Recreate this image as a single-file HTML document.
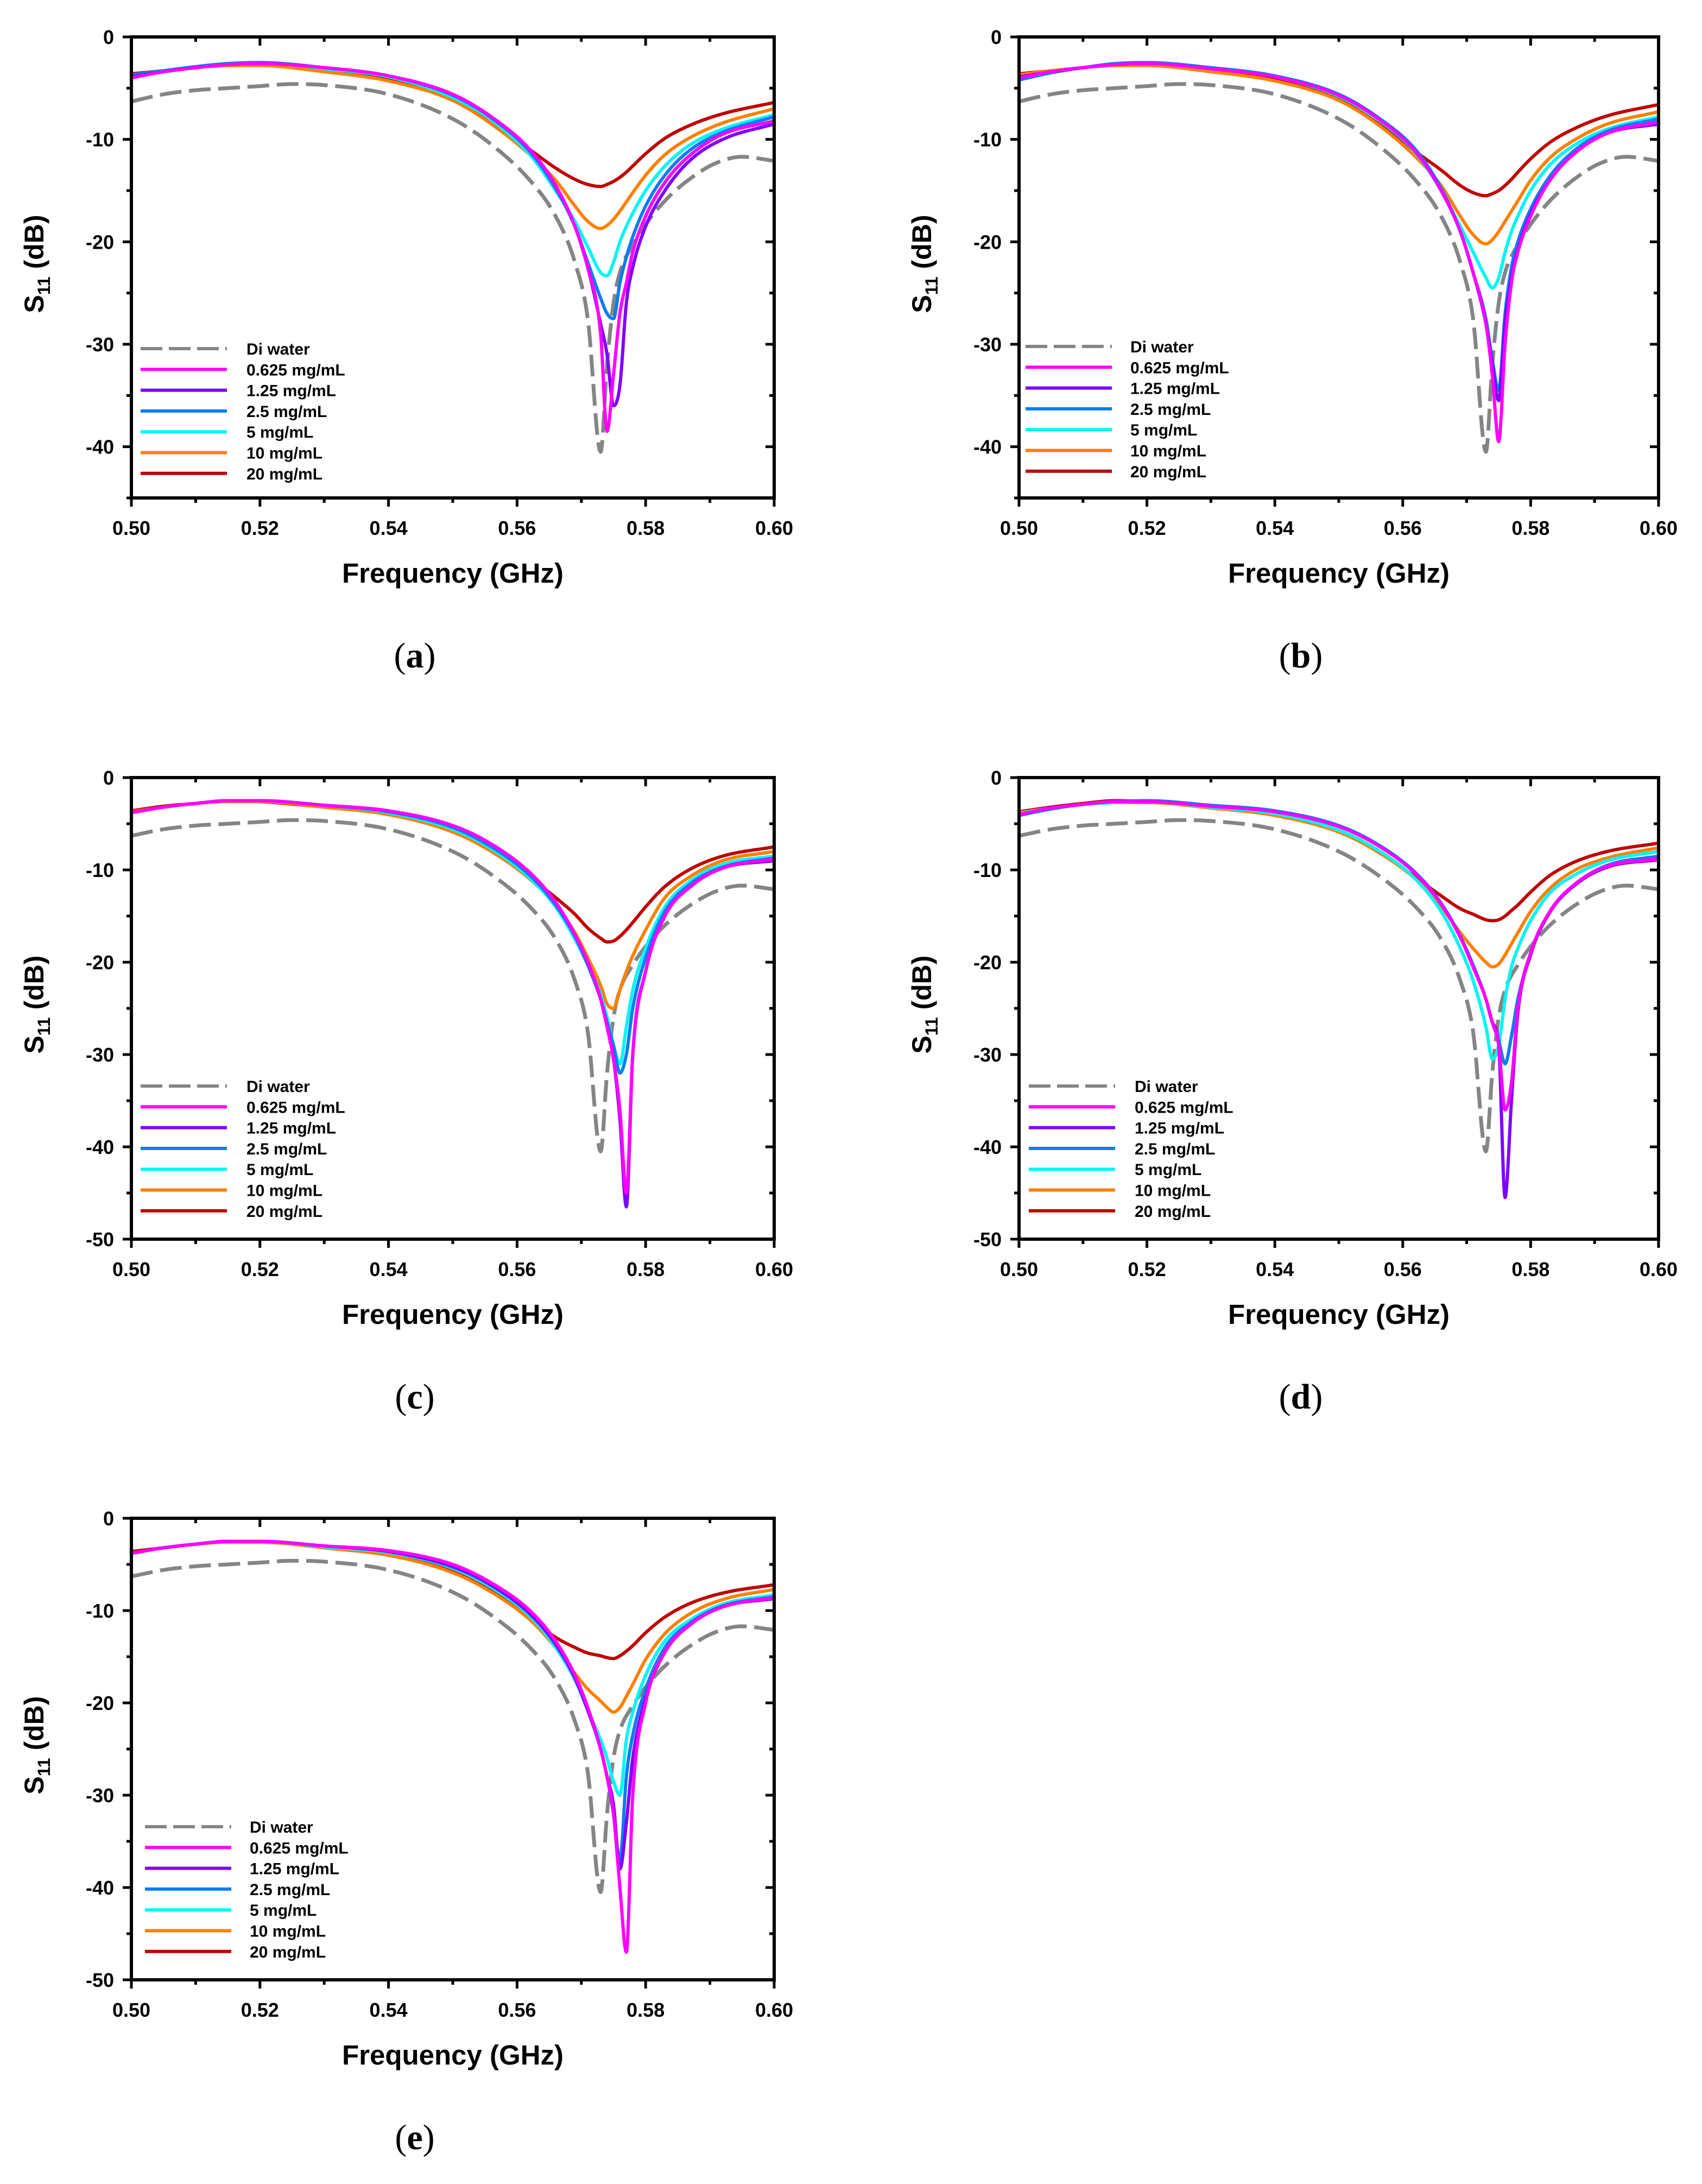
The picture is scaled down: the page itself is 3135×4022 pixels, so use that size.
<!DOCTYPE html>
<html><head><meta charset="utf-8">
<style>
html,body{margin:0;padding:0;background:#fff;}
svg{display:block;font-family:"Liberation Sans",Arial,sans-serif;}
</style></head>
<body>
<svg id="fig" width="3135" height="4022" viewBox="0 0 3135 4022" xmlns="http://www.w3.org/2000/svg"></svg>
<script>
// ---- data ----
const freqs = [0.500,0.505,0.510,0.515,0.520,0.530,0.540,0.550,0.556,0.562,0.566,0.569,0.571,0.573,0.574,0.575,0.576,0.577,0.578,0.580,0.583,0.587,0.592,0.600];
const diFreqs = [0.500,0.505,0.510,0.515,0.520,0.525,0.530,0.540,0.550,0.556,0.562,0.566,0.569,0.571,0.573,0.574,0.575,0.576,0.578,0.580,0.583,0.587,0.591,0.595,0.600];
const seriesLabels = ["Di water","0.625 mg/mL","1.25 mg/mL","2.5 mg/mL","5 mg/mL","10 mg/mL","20 mg/mL"];
const xTicks = [0.50,0.52,0.54,0.56,0.58,0.60];
const xTickLabels = ["0.50","0.52","0.54","0.56","0.58","0.60"];
const yTicks45 = [0,-10,-20,-30,-40];
const yTicks50 = [0,-10,-20,-30,-40,-50];
const diWater = [-6.3,-5.6,-5.2,-5.0,-4.8,-4.6,-4.7,-5.6,-8.0,-10.5,-14,-17.5,-22,-27.5,-40.5,-32,-26,-23,-20.3,-18.3,-16,-13.8,-12.3,-11.7,-12.1];

const aMag = [-4.0,-3.4,-3.0,-2.7,-2.6,-3.0,-3.8,-5.6,-7.8,-11.0,-14.5,-18.5,-22.5,-29,-38.5,-33,-27,-24,-21,-17.5,-14.2,-11.5,-9.5,-8.2];
const aPur = [-3.9,-3.4,-3.0,-2.7,-2.6,-3.0,-3.8,-5.6,-7.8,-11.0,-14.5,-18.5,-22.5,-28,-31,-36,-34,-26,-22.5,-18.5,-15,-12,-10,-8.5];
const aBlu = [-3.7,-3.3,-2.9,-2.6,-2.5,-3.0,-3.8,-5.7,-7.9,-11.2,-14.8,-18.5,-22,-25.5,-27,-27.5,-24,-21.5,-19.5,-16.5,-13.5,-11,-9.3,-7.8];
const aCya = [-3.8,-3.3,-2.9,-2.6,-2.5,-3.1,-3.9,-5.9,-8.1,-11.5,-15,-18,-20.5,-23,-23.3,-22,-20,-18.5,-17.2,-15,-12.6,-10.5,-9,-7.6];
const aOra = [-3.7,-3.3,-3.0,-2.8,-2.8,-3.4,-4.3,-6.2,-8.5,-11.5,-14.0,-16.5,-18.0,-18.7,-18.4,-17.8,-17,-16.1,-15.2,-13.5,-11.5,-9.8,-8.4,-7.0];
const aRed = [-3.6,-3.3,-3.0,-2.7,-2.7,-3.2,-4.1,-6.0,-8.3,-11.0,-12.8,-13.9,-14.4,-14.6,-14.4,-14.1,-13.7,-13.2,-12.6,-11.4,-9.9,-8.6,-7.5,-6.4];

const bMag = [-4.0,-3.4,-3.0,-2.7,-2.6,-3.1,-3.9,-5.7,-7.9,-11.2,-15,-19,-23,-28,-33,-39.5,-30,-24,-21,-17.5,-14,-11.3,-9.4,-8.3];
const bPur = [-3.9,-3.4,-3.0,-2.7,-2.6,-3.1,-3.9,-5.7,-7.9,-11.2,-15,-19,-23,-28,-32,-35.5,-28,-23.5,-20.8,-17.3,-14,-11.3,-9.4,-8.5];
const bBlu = [-4.2,-3.5,-3.0,-2.6,-2.5,-3.0,-3.8,-5.6,-7.8,-11,-14.8,-19,-23,-27.5,-31.5,-34.5,-27,-22.5,-20,-16.8,-13.6,-11,-9.2,-8.0];
const bCya = [-3.9,-3.4,-3.0,-2.7,-2.6,-3.1,-3.9,-5.8,-8.0,-11.3,-15,-18.5,-21,-23.5,-24.5,-23.5,-21,-19,-17.5,-15,-12.5,-10.5,-9,-7.8];
const bOra = [-3.7,-3.3,-3.0,-2.8,-2.8,-3.4,-4.3,-6.2,-8.5,-11.7,-14.5,-17.5,-19.3,-20.2,-19.8,-19,-18,-17,-16,-14,-11.8,-10,-8.5,-7.3];
const bRed = [-3.6,-3.3,-3.0,-2.7,-2.7,-3.3,-4.2,-6.1,-8.4,-11.2,-13,-14.5,-15.2,-15.5,-15.3,-15,-14.5,-13.9,-13.2,-11.9,-10.3,-8.9,-7.7,-6.6];

const cMag = [-3.8,-3.2,-2.8,-2.5,-2.5,-3.0,-3.6,-5.2,-7.2,-10.3,-13.5,-17,-20,-24,-27,-30.5,-36,-45,-30,-21,-15,-11.8,-9.8,-8.8];
const cPur = [-3.8,-3.2,-2.8,-2.5,-2.5,-3.0,-3.6,-5.2,-7.2,-10.3,-13.5,-17,-20,-24,-27,-30.5,-37,-46.5,-30,-21,-15,-11.8,-9.8,-9.0];
const cBlu = [-3.8,-3.2,-2.8,-2.5,-2.5,-3.0,-3.7,-5.4,-7.5,-10.6,-13.8,-17.2,-20.3,-24,-26.5,-29,-32,-30,-25,-19.5,-14.5,-11.5,-9.7,-8.7];
const cCya = [-3.8,-3.2,-2.8,-2.5,-2.5,-3.0,-3.8,-5.6,-7.7,-10.9,-14,-17.5,-20.3,-23.5,-26,-29,-31,-27,-23,-18.5,-14,-11.2,-9.4,-8.5];
const cOra = [-3.7,-3.2,-2.8,-2.6,-2.6,-3.2,-4.0,-5.9,-8.0,-11.0,-13.8,-16.8,-19.5,-22.5,-24.5,-25,-23,-21,-19.3,-16.5,-13,-10.7,-9,-8.0];
const cRed = [-3.6,-3.1,-2.8,-2.5,-2.6,-3.2,-4.0,-5.8,-7.9,-10.8,-13.0,-14.8,-16.3,-17.4,-17.8,-17.7,-17.2,-16.5,-15.7,-14,-11.8,-9.9,-8.5,-7.5];

const dMag = [-4.0,-3.3,-2.9,-2.6,-2.6,-3.1,-3.7,-5.3,-7.3,-10.4,-13.7,-17.3,-20.5,-24,-26.5,-29,-36,-33,-25,-19,-14.5,-11.5,-9.6,-8.8];
const dPur = [-4.0,-3.3,-2.9,-2.6,-2.6,-3.1,-3.7,-5.3,-7.3,-10.4,-13.7,-17.3,-20.5,-24,-26.5,-29,-45.5,-35,-25.5,-19.2,-14.6,-11.6,-9.7,-8.9];
const dBlu = [-4.1,-3.4,-2.9,-2.6,-2.5,-3.0,-3.6,-5.2,-7.2,-10.3,-13.6,-17.2,-20.3,-24,-26.5,-28.5,-31,-28,-24,-19,-14.5,-11.5,-9.5,-8.5];
const dCya = [-3.9,-3.3,-2.9,-2.7,-2.6,-3.2,-3.9,-5.7,-7.8,-11,-14.5,-18.5,-22,-27,-30.5,-29,-24,-20.5,-18.5,-15.5,-12.5,-10.5,-9,-8.0];
const dOra = [-3.8,-3.3,-2.9,-2.7,-2.7,-3.3,-4.1,-5.9,-8.0,-11.0,-14.0,-16.8,-18.5,-20,-20.5,-20.2,-19.2,-18,-16.8,-14.5,-12,-10,-8.7,-7.6];
const dRed = [-3.7,-3.2,-2.8,-2.5,-2.6,-3.2,-4.0,-5.8,-7.9,-10.8,-12.8,-14.2,-14.8,-15.4,-15.5,-15.4,-15,-14.4,-13.8,-12.4,-10.6,-9.1,-8,-7.1];

const eMag = [-3.8,-3.2,-2.8,-2.5,-2.5,-3.0,-3.5,-5.0,-7.0,-10.0,-13.3,-17,-20.5,-25,-28,-32,-40,-47,-30,-20,-14.5,-11.5,-9.6,-8.6];
const ePur = [-3.8,-3.2,-2.8,-2.5,-2.5,-3.0,-3.6,-5.2,-7.2,-10.3,-13.6,-17.3,-20.8,-25,-28,-31,-38,-33,-26,-19.5,-14.5,-11.5,-9.6,-8.7];
const eBlu = [-3.8,-3.2,-2.8,-2.5,-2.5,-3.0,-3.6,-5.3,-7.3,-10.4,-13.7,-17.3,-20.8,-25,-28,-32,-37,-28,-23.5,-18.5,-14,-11.3,-9.5,-8.5];
const eCya = [-3.8,-3.2,-2.8,-2.5,-2.5,-3.1,-3.7,-5.4,-7.5,-10.6,-14,-17.5,-20.8,-24,-26,-28.5,-30,-24,-21,-17,-13.3,-11,-9.3,-8.3];
const eOra = [-3.8,-3.2,-2.8,-2.6,-2.6,-3.2,-4.0,-5.9,-8.0,-11,-14.0,-16.8,-18.5,-19.8,-20.5,-21,-20.5,-19.3,-18,-15.3,-12.5,-10.3,-8.8,-7.7];
const eRed = [-3.6,-3.2,-2.8,-2.5,-2.5,-3.2,-4.0,-5.8,-7.9,-10.8,-12.9,-14.0,-14.6,-14.9,-15.1,-15.2,-14.9,-14.4,-13.8,-12.4,-10.7,-9.2,-8.1,-7.2];

// ---- rendering ----
const NS = "http://www.w3.org/2000/svg";
const svg = document.getElementById("fig");
const colors = ["#858585","#ff00ff","#8000ff","#0a7cf5","#00f5f5","#ff8000","#c00000"];
const panels = [
  {id:"a", x0:242, x1:1426, y0:68, y1:917, ymin:-45, yt:yTicks45, data:[diWater,aMag,aPur,aBlu,aCya,aOra,aRed], lx:259, tx:454, ly:642},
  {id:"b", x0:1877, x1:3055, y0:68, y1:917, ymin:-45, yt:yTicks45, data:[diWater,bMag,bPur,bBlu,bCya,bOra,bRed], lx:1889, tx:2082, ly:638},
  {id:"c", x0:242, x1:1426, y0:1432, y1:2282, ymin:-50, yt:yTicks50, data:[diWater,cMag,cPur,cBlu,cCya,cOra,cRed], lx:259, tx:454, ly:2000},
  {id:"d", x0:1877, x1:3055, y0:1432, y1:2282, ymin:-50, yt:yTicks50, data:[diWater,dMag,dPur,dBlu,dCya,dOra,dRed], lx:1895, tx:2090, ly:2000},
  {id:"e", x0:242, x1:1426, y0:2796, y1:3646, ymin:-50, yt:yTicks50, data:[diWater,eMag,ePur,eBlu,eCya,eOra,eRed], lx:267, tx:460, ly:3364}
];
function mk(tag, attrs, parent){
  const el = document.createElementNS(NS, tag);
  for (const k in attrs) el.setAttribute(k, attrs[k]);
  (parent||svg).appendChild(el);
  return el;
}
// monotone cubic interpolation (Fritsch-Carlson)
function monotone(xs, ys){
  const n = xs.length, d = [], m = new Array(n);
  for (let i=0;i<n-1;i++) d.push((ys[i+1]-ys[i])/(xs[i+1]-xs[i]));
  m[0]=d[0]; m[n-1]=d[n-2];
  for (let i=1;i<n-1;i++) m[i] = (d[i-1]*d[i] <= 0) ? 0 : (d[i-1]+d[i])/2;
  for (let i=0;i<n-1;i++){
    if (d[i]===0){ m[i]=0; m[i+1]=0; continue; }
    const a=m[i]/d[i], b=m[i+1]/d[i], s=a*a+b*b;
    if (s>9){ const t=3/Math.sqrt(s); m[i]=t*a*d[i]; m[i+1]=t*b*d[i]; }
  }
  const pts=[];
  for (let i=0;i<n-1;i++){
    const h=xs[i+1]-xs[i], N=12;
    for (let k=0;k<N;k++){
      const t=k/N, t2=t*t, t3=t2*t;
      const y=(2*t3-3*t2+1)*ys[i]+(t3-2*t2+t)*h*m[i]+(-2*t3+3*t2)*ys[i+1]+(t3-t2)*h*m[i+1];
      pts.push([xs[i]+t*h, y]);
    }
  }
  pts.push([xs[n-1], ys[n-1]]);
  return pts;
}

panels.forEach(p => {
  const g = mk("g", {});
  
  
  const X = f => p.x0 + (f-0.5)/0.1*(p.x1-p.x0);
  const Y = v => p.y0 + (v/p.ymin)*(p.y1-p.y0);
  const clipId = "clip"+p.id;
  const cp = mk("clipPath", {id:clipId}, g);
  mk("rect", {x:p.x0, y:p.y0, width:p.x1-p.x0, height:p.y1-p.y0}, cp);
  const order = [0,6,5,4,3,2,1];
  order.forEach(si => {
    const pts = monotone(si===0 ? diFreqs : freqs, p.data[si]);
    const dstr = pts.map((q,i)=>(i?"L":"M")+X(q[0]).toFixed(1)+","+Y(q[1]).toFixed(1)).join("");
    const path = mk("path", {d:dstr, fill:"none", stroke:colors[si], "stroke-width": si===0?7:6,
      "stroke-linejoin":"round", "clip-path":"url(#"+clipId+")"}, g);
    if (si===0) path.setAttribute("stroke-dasharray","40 14");
    
    
  });
  // frame
  const fr = mk("rect", {x:p.x0, y:p.y0, width:p.x1-p.x0, height:p.y1-p.y0, fill:"none", stroke:"#000", "stroke-width":6}, g);
  
  
  // x ticks
  for (let k=0;k<=10;k++){
    const f = 0.5 + k*0.01, x = X(f), major = k%2===0, L = major?16:9;
    mk("line", {x1:x, y1:p.y1, x2:x, y2:p.y1+L, stroke:"#000", "stroke-width":5}, g);
    mk("line", {x1:x, y1:p.y0, x2:x, y2:p.y0+L, stroke:"#000", "stroke-width":5}, g);
  }
  xTicks.forEach((f,i) => {
    const t = mk("text", {x:X(f), y:p.y1+68, "text-anchor":"middle", "font-size":36, "font-weight":"bold"}, g);
    t.textContent = xTickLabels[i];
    
    
  });
  // y ticks
  for (let v=0; v>=p.ymin; v-=5){
    const y = Y(v), major = v%10===0, L = major?16:9;
    mk("line", {x1:p.x0-L, y1:y, x2:p.x0, y2:y, stroke:"#000", "stroke-width":5}, g);
    mk("line", {x1:p.x1-L, y1:y, x2:p.x1, y2:y, stroke:"#000", "stroke-width":5}, g);
  }
  p.yt.forEach(v => {
    const t = mk("text", {x:p.x0-32, y:Y(v)+13, "text-anchor":"end", "font-size":36, "font-weight":"bold"}, g);
    t.textContent = v===0 ? "0" : String(v);
    
    
  });
  // axis titles
  const xt = mk("text", {x:(p.x0+p.x1)/2, y:p.y1+156, "text-anchor":"middle", "font-size":51, "font-weight":"bold"}, g);
  xt.textContent = "Frequency (GHz)";
  
  
  const cyx = p.x0-162, cyy = p.y0+418;
  const yt = mk("text", {x:cyx, y:cyy, transform:"rotate(-90 "+cyx+" "+cyy+")", "text-anchor":"middle", "font-size":50, "font-weight":"bold"}, g);
  yt.innerHTML = 'S<tspan font-size="32" dy="12">11</tspan><tspan dy="-12"> (dB)</tspan>';
  
  
  // legend
  seriesLabels.forEach((lab,i) => {
    const y = p.ly + i*38.3;
    const ln = mk("line", {x1:p.lx, y1:y, x2:p.lx+159, y2:y, stroke:colors[i], "stroke-width":6}, g);
    if (i===0) ln.setAttribute("stroke-dasharray","40 12");
    
    
    const t = mk("text", {x:p.tx, y:y+11, "font-size":30, "font-weight":"bold"}, g);
    t.textContent = lab;
    
    
  });
  // caption
  const cap = mk("text", {x:(p.x0+p.x1)/2 - 70, y:p.y1+312, "text-anchor":"middle", "font-size":66, "font-family":"Liberation Serif, serif"}, g);
  cap.innerHTML = '(<tspan font-weight="bold">'+p.id+'</tspan>)';
  
  
});
</script>
</body></html>
